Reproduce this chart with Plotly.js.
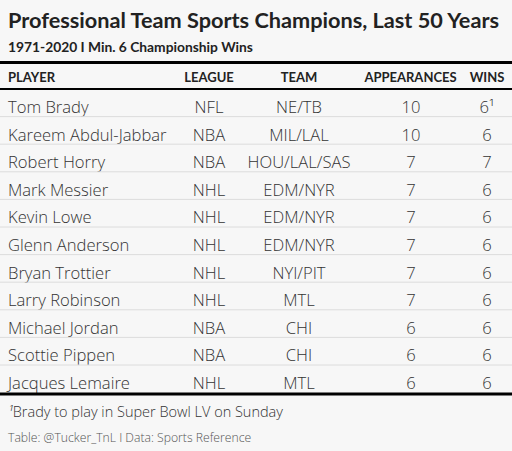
<!DOCTYPE html>
<html>
<head>
<meta charset="utf-8">
<script src="https://cdn.plot.ly/plotly-3.0.1.min.js"></script>
<style>html,body{margin:0;padding:0;background:#f7f7f7;}</style>
</head>
<body>
<div id="chart" style="width:512px;height:451px;"></div>
<script>
const headers = ["PLAYER", "LEAGUE", "TEAM", "APPEARANCES", "WINS"];
const players = ["Tom Brady", "Kareem Abdul-Jabbar", "Robert Horry", "Mark Messier", "Kevin Lowe", "Glenn Anderson", "Bryan Trottier", "Larry Robinson", "Michael Jordan", "Scottie Pippen", "Jacques Lemaire"];
const leagues = ["NFL", "NBA", "NBA", "NHL", "NHL", "NHL", "NHL", "NHL", "NBA", "NBA", "NHL"];
const teams = ["NE/TB", "MIL/LAL", "HOU/LAL/SAS", "EDM/NYR", "EDM/NYR", "EDM/NYR", "NYI/PIT", "MTL", "CHI", "CHI", "MTL"];
const appearances = [10, 10, 7, 7, 7, 7, 7, 7, 6, 6, 6];
const wins = [6, 6, 7, 6, 6, 6, 6, 6, 6, 6, 6];
const winNotes = ["¹", "", "", "", "", "", "", "", "", "", ""];
const titleText = "Professional Team Sports Champions, Last 50 Years";
const subtitleText = "1971-2020 I Min. 6 Championship Wins";
const footnoteMark = "¹";
const footnoteText = "Brady to play in Super Bowl LV on Sunday";
const sourceText = "Table: @Tucker_TnL I Data: Sports Reference";

const W = 512, H = 451;
const tableTop = 60.5, headerH = 27, rowH = 27.6;
const lineTop = 62, lineHeaderBottom = 89;
const py = p => 1 - p / H;

const winLabels = wins.map((w, i) => `${w}${winNotes[i]}`);

const bg = "#f7f7f7";
const bodyFont = "'Open Sans', sans-serif";
const trace = {
  type: "table",
  domain: {x: [0, 1], y: [0, py(tableTop)]},
  columnwidth: [180, 58, 122, 102, 50],
  header: {
    values: headers.map(h => `<b>${h}</b>`),
    align: ["left", "center", "center", "center", "center"],
    height: headerH,
    fill: {color: bg},
    line: {width: 0, color: bg},
    font: {family: "Lato, sans-serif", size: 13, color: "#222"}
  },
  cells: {
    values: [players, leagues, teams, appearances, winLabels],
    align: ["left", "center", "center", "center", "center"],
    height: rowH,
    fill: {color: bg},
    line: {width: 0, color: bg},
    font: {family: bodyFont, size: 16.6, color: "#333", weight: 300}
  }
};

const shapes = [];
const hline = (y, w, c) => shapes.push({type: "line", xref: "paper", yref: "paper", x0: 0, x1: 1, y0: py(y), y1: py(y), line: {color: c, width: w}});
for (let k = 1; k < players.length; k++) hline(lineHeaderBottom + rowH * k, 1, "#dcdcdc");
hline(lineTop + 0.5, 3, "#000");
hline(lineHeaderBottom, 2, "#000");
hline(lineHeaderBottom + rowH * players.length + 1.5, 3, "#000");

const ann = (text, x, y, size, color, fam, weight) => ({text, x: x / W, y: py(y), xref: "paper", yref: "paper", xanchor: "left", yanchor: "middle", showarrow: false, font: {family: fam || "Lato, sans-serif", size, color, weight: weight || 400}});

const layout = {
  width: W, height: H,
  margin: {l: 0, r: 0, t: 0, b: 0},
  paper_bgcolor: bg, plot_bgcolor: bg,
  shapes,
  annotations: [
    ann(`<b>${titleText}</b>`, 6, 20, 21.7, "#222"),
    ann(`<b>${subtitleText}</b>`, 6, 46, 13.8, "#222"),
    ann(`<i>${footnoteMark}</i>${footnoteText}`, 6, 411, 14.5, "#333", bodyFont, 300),
    ann(sourceText, 6, 437, 12.2, "#555", bodyFont, 300)
  ]
};

Plotly.newPlot("chart", [trace], layout, {displayModeBar: false, staticPlot: true});
</script>
</body>
</html>
